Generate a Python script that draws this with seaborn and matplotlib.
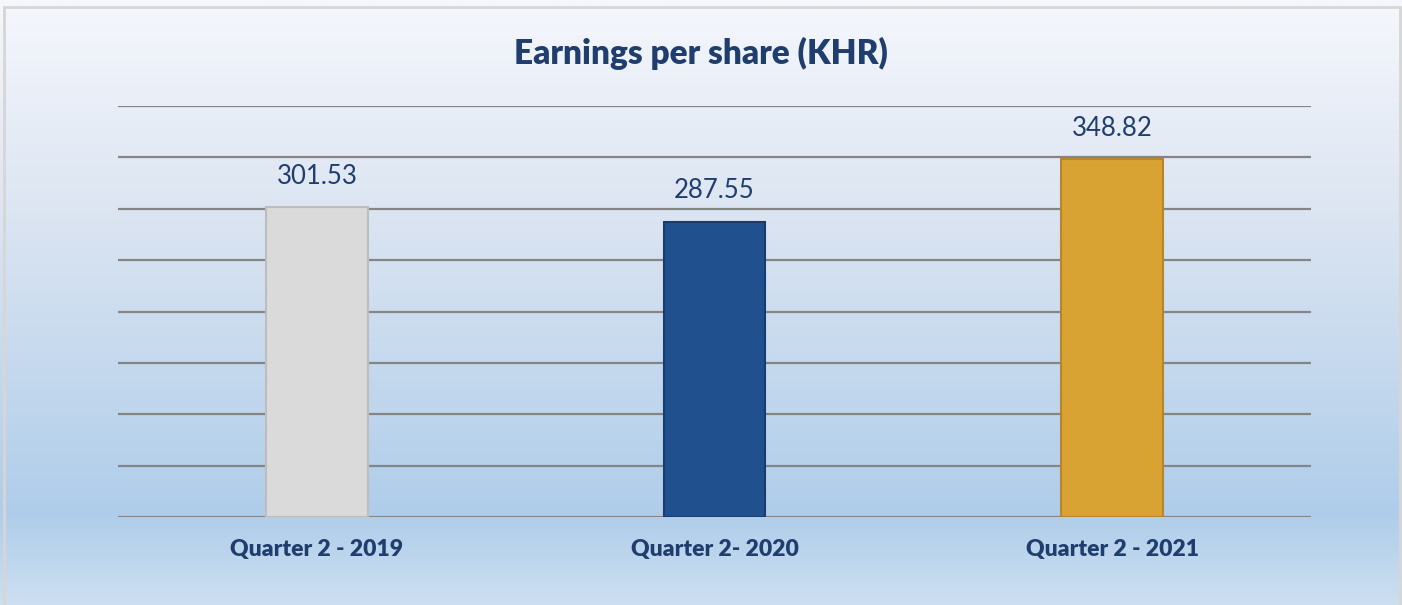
import numpy as np
import pandas as pd
import matplotlib
matplotlib.use("Agg")
import matplotlib.pyplot as plt
from matplotlib.colors import LinearSegmentedColormap
from matplotlib.patches import Rectangle
import seaborn as sns

categories = ["Quarter 2 - 2019", "Quarter 2- 2020", "Quarter 2 - 2021"]
values = [301.53, 287.55, 348.82]
value_labels = ["301.53", "287.55", "348.82"]
bar_colors = ["#DADADA", "#21508E", "#D8A332"]
edge_colors = ["#BDBDBD", "#183D6C", "#B8862A"]

sns.set_theme(style="white")
plt.rcParams['font.family'] = ['Lato', 'DejaVu Sans']

navy = "#1F3E6E"
fig = plt.figure(figsize=(14.02, 6.05), dpi=100)

# background gradient
bg = fig.add_axes([0, 0, 1, 1], zorder=-10)
cmap = LinearSegmentedColormap.from_list(
    "bg", [(0.0, "#F5F7FC"), (0.35, "#DCE5F2"), (0.85, "#AFCDEA"), (1.0, "#CCDFF1")])
grad = np.linspace(0, 1, 256).reshape(-1, 1)
bg.imshow(grad, aspect="auto", cmap=cmap, extent=[0, 1, 0, 1], origin="upper")
bg.set_xlim(0, 1); bg.set_ylim(0, 1)
bg.axis("off")
bg.add_patch(Rectangle((4 / 1402, -0.01), (1400 - 4) / 1402, (605 - 7) / 605 + 0.01,
                       fill=False, edgecolor="#D6D6D6", linewidth=2.0))

ax = fig.add_axes([118 / 1402, 88 / 605, (1311 - 118) / 1402, (517 - 106) / 605])
ax.set_facecolor("none")

df = pd.DataFrame({"category": categories, "value": values})
sns.barplot(data=df, x="category", y="value", hue="category", palette=bar_colors,
            saturation=1, legend=False, width=0.255, ax=ax, zorder=3)
for patch, ec in zip(ax.patches, edge_colors):
    patch.set_edgecolor(ec)
    patch.set_linewidth(1.5)

ax.set_ylim(0, 400)
ax.set_xlim(-0.5, 2.5)
ax.set_yticks(np.arange(0, 401, 50))
ax.yaxis.grid(True, color="#858585", linewidth=1.6, zorder=1)
ax.set_axisbelow(True)
ax.tick_params(axis="y", left=False, labelleft=False)
ax.tick_params(axis="x", bottom=False, pad=10)
for s in ax.spines.values():
    s.set_visible(False)
ax.set_xlabel("")
ax.set_ylabel("")
ax.set_xticks(range(len(categories)))
ax.set_xticklabels(categories, fontsize=16.5, fontweight="heavy", color=navy)

for i, (v, lab) in enumerate(zip(values, value_labels)):
    ax.annotate(lab, (i, v), xytext=(0, 13), textcoords="offset points",
                ha="center", va="bottom", fontsize=18.5, color=navy)

fig.text(0.5, 1 - 53 / 605, "Earnings per share (KHR)", ha="center", va="center",
         fontsize=24, fontweight="heavy", color=navy)

fig.savefig("out.png", dpi=100)
